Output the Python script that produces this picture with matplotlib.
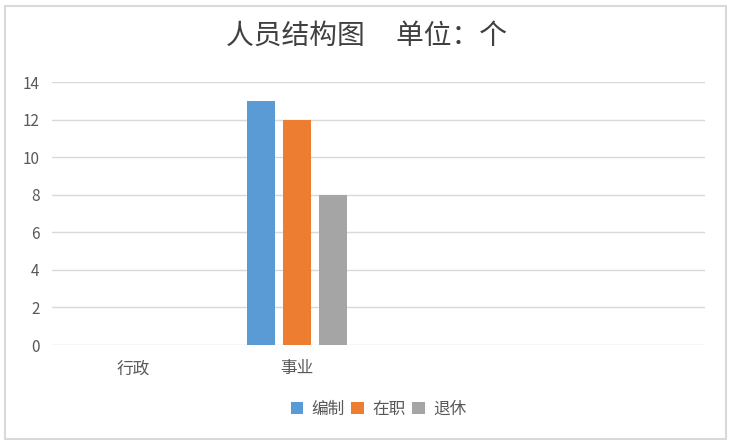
import matplotlib.pyplot as plt
from matplotlib.patches import Rectangle
import numpy as np

plt.rcParams['font.family'] = ['Noto Sans CJK SC', 'DejaVu Sans']

categories = ["行政", "事业", "", ""]
series_names = ["编制", "在职", "退休"]
bianzhi = [0, 13, 0, 0]
zaizhi = [0, 12, 0, 0]
tuixiu = [0, 8, 0, 0]
colors = ["#5B9BD5", "#ED7D31", "#A5A5A5"]

fig = plt.figure(figsize=(7.34, 4.46), dpi=100)
ax = fig.add_axes([52 / 734, 1 - 345 / 446, (705 - 52) / 734, (345 - 82.3) / 446])

# 外框
fig.patches.append(Rectangle((5 / 734, 1 - 439 / 446), 721 / 734, 433 / 446,
                             transform=fig.transFigure, fill=False,
                             edgecolor="#D9D9D9", linewidth=1.5))

x = np.arange(len(categories))
width = 28 / 163
step = 36 / 163
for i, (vals, name) in enumerate(zip([bianzhi, zaizhi, tuixiu], series_names)):
    ax.bar(x + (i - 1) * step, vals, width=width, color=colors[i], label=name, zorder=2)

ax.set_xlim(-0.5, len(categories) - 0.5)
ax.set_ylim(0, 14)
ax.set_yticks(range(0, 15, 2))
ax.set_xticks(x)
ax.set_xticklabels(categories)
ax.grid(axis="y", color="#D9D9D9", linewidth=1, zorder=0)
for s in ax.spines.values():
    s.set_visible(False)
ax.tick_params(length=0, labelcolor="#595959")
ax.tick_params(axis="y", pad=9, labelsize=11)
ax.tick_params(axis="x", pad=11, labelsize=12)

fig.text(0.5, 1 - 36 / 446, "人员结构图     单位：个", ha="center", va="center",
         fontsize=20, color="#404040")

ax.legend(loc="center", bbox_to_anchor=(0.5, -0.245), ncol=3, frameon=False,
          fontsize=12, labelcolor="#595959", handlelength=0.75, handleheight=0.75,
          handletextpad=0.5, columnspacing=0.4)

fig.savefig("out.png", dpi=100)
